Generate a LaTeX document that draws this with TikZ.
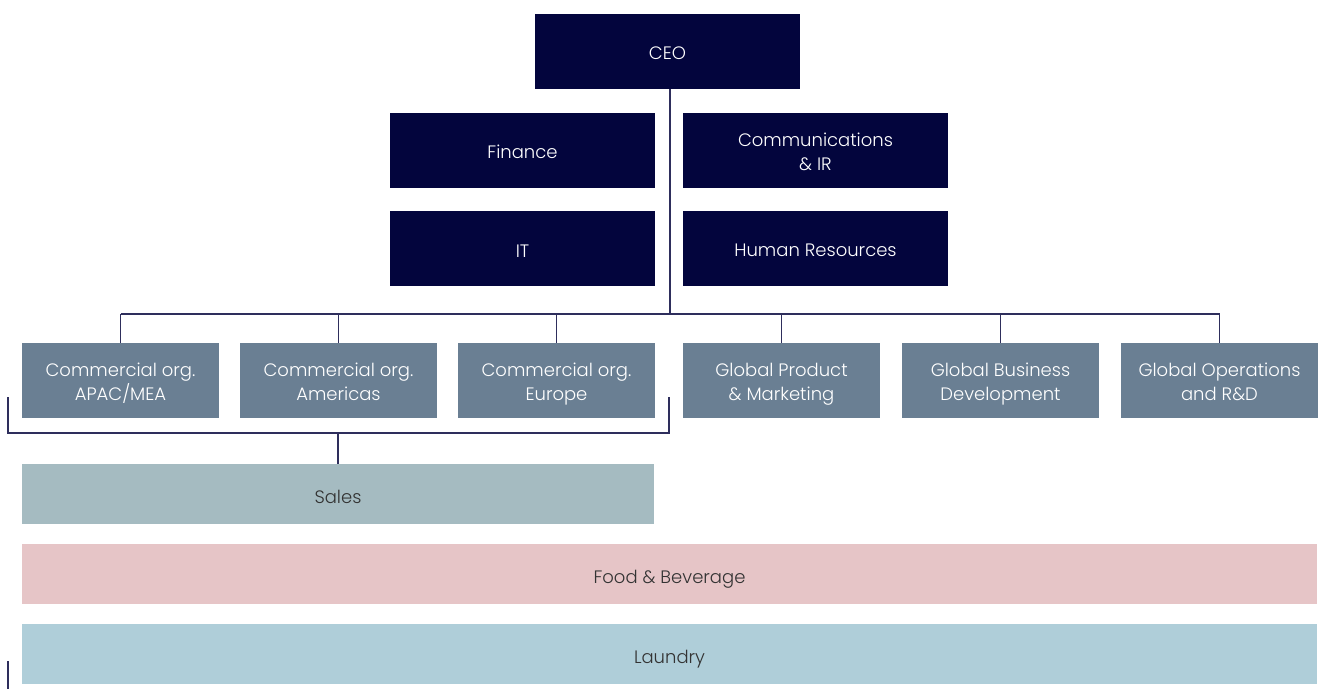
\documentclass[tikz,border=0pt]{standalone}
\usepackage{fontspec}
\setmainfont{Poppins Light}
\usetikzlibrary{positioning}
\definecolor{navy}{HTML}{03053D}
\definecolor{slate}{HTML}{6A7F93}
\definecolor{salesc}{HTML}{A5BBC1}
\definecolor{foodc}{HTML}{E6C5C7}
\definecolor{laundryc}{HTML}{AFCED9}
\definecolor{linkc}{HTML}{2E2E5C}
\tikzset{boxtext/.style = {inner sep = 0, align = center, execute at begin node = \rule{0pt}{17pt}},
  twoline/.style = {execute at begin node = \rule{0pt}{45pt}, execute at end node = \rule[-5pt]{0pt}{5pt}},
  topbox/.style = {boxtext, fill = navy, text = white, minimum width = 265, minimum height = 75},
  unitbox/.style = {boxtext, twoline, fill = slate, text = white, minimum width = 197, minimum height = 75},
  bandbox/.style = {boxtext, minimum height = 60, text = black!80, execute at begin node = \rule{0pt}{24pt},
    execute at end node = \rule[-5pt]{0pt}{5pt}},
  link/.style = {draw = linkc, line width = 1.3}}

\begin{document}
\begin{tikzpicture}[x = 1pt, y = -1pt, font = \fontsize{18}{24}\selectfont]
    \useasboundingbox (0, 0) rectangle (1328, 689);

    \node [topbox] (ceo) at (667.5, 51.5) {CEO};
    \node [topbox] (fin) at (522.5, 150.5) {Finance};
    \node [topbox, twoline] (comm) at (815.5, 150.5) {Communications\\ \& IR};
    \node [topbox] (it) at (522.5, 248.5) {IT};
    \node [topbox] (hr) at (815.5, 248.5) {Human Resources};

    \node [unitbox] (apac) at (120.5, 380.5) {Commercial org.\\ APAC/MEA};
    \node [unitbox] (amer) at (338.5, 380.5) {Commercial org.\\ Americas};
    \node [unitbox] (eur) at (556.5, 380.5) {Commercial org.\\ Europe};
    \node [unitbox] (prod) at (781.5, 380.5) {Global Product\\ \& Marketing};
    \node [unitbox] (bizdev) at (1000.5, 380.5) {Global Business\\ Development};
    \node [unitbox] (ops) at (1219.5, 380.5) {Global Operations\\ and R\&D};

    \node [bandbox, fill = salesc, minimum width = 632] (sales) at (338, 494) {Sales};
    \node [bandbox, fill = foodc, minimum width = 1295] (food) at (669.5, 574) {Food \& Beverage};
    \node [bandbox, fill = laundryc, minimum width = 1295] (laundry) at (669.5, 654) {Laundry};

    \coordinate (bus) at (670, 314);
    \draw [link] (ceo.south -| bus) -- (bus);
    \draw [link] (apac.north |- bus) -- (ops.north |- bus);
    \foreach \n in {apac, amer, eur, prod, bizdev, ops}
      \draw [link] (\n.north) -- (\n.north |- bus);

    \coordinate (brtl) at (8, 397);
    \coordinate (brbl) at (8, 433);
    \coordinate (brbr) at (669, 433);
    \coordinate (brtr) at (669, 397);
    \draw [link] (brtl) -- (brbl) -- (brbr) -- (brtr);
    \draw [link] (sales.north) -- (sales.north |- brbl);

    \coordinate (markt) at (8, 661);
    \coordinate (markb) at (8, 689);
    \draw [link, line width = 2] (markt) -- (markb);
  \end{tikzpicture}
\end{document}
